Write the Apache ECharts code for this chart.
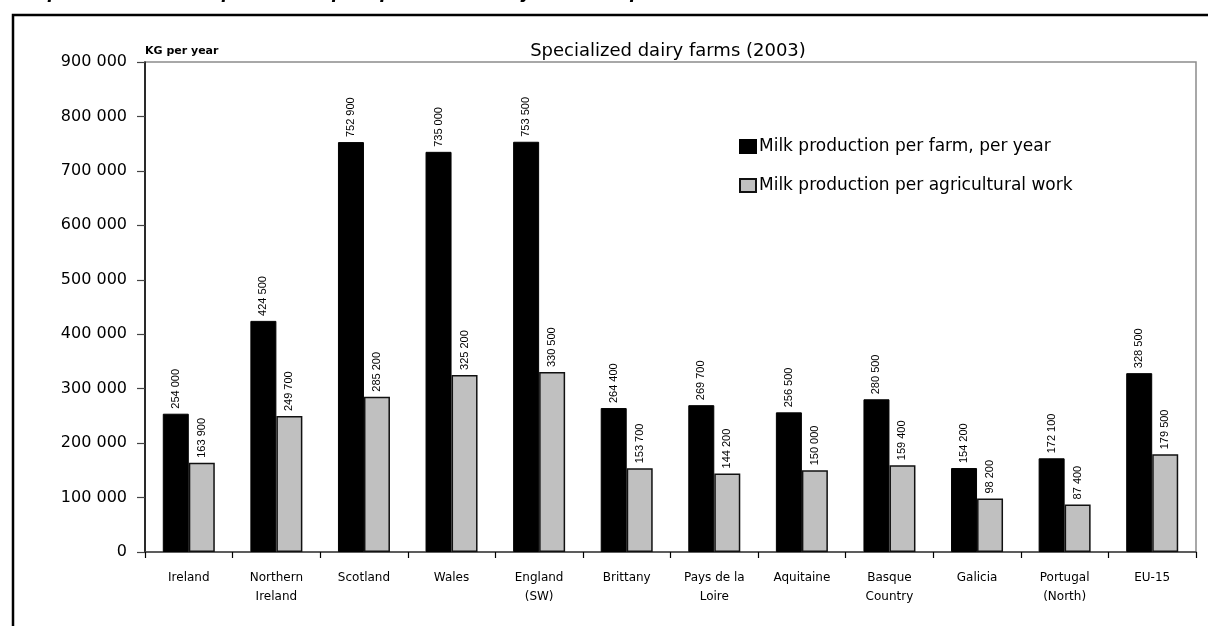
<!DOCTYPE html>
<html>
<head>
<meta charset="utf-8">
<style>
  html, body { margin: 0; padding: 0; background: #fff; }
  #chart { width: 1208px; height: 626px; }
</style>
<script src="https://cdn.jsdelivr.net/npm/echarts@6/dist/echarts.min.js"></script>
</head>
<body>
<div id="chart"></div>
<script>
// Regions compared (two-line labels use a line break)
const categories = [
  'Ireland', 'Northern\nIreland', 'Scotland', 'Wales', 'England\n(SW)', 'Brittany',
  'Pays de la\nLoire', 'Aquitaine', 'Basque\nCountry', 'Galicia', 'Portugal\n(North)', 'EU-15'
];

// Milk production, kg per year
const perFarm = [254000, 424500, 752900, 735000, 753500, 264400, 269700, 256500, 280500, 154200, 172100, 328500];
const perWorker = [163900, 249700, 285200, 325200, 330500, 153700, 144200, 150000, 159400, 98200, 87400, 179500];

const seriesNames = ['Milk production per farm, per year', 'Milk production per agricultural work'];
const yTicks = { min: 0, max: 900000, interval: 100000 };

const handFont = '"DejaVu Sans", "Noto Sans", sans-serif';
const numFont = '"Liberation Sans", Arial, sans-serif';

// 254000 -> "254 000"
function spaced(v) {
  return String(Math.round(v)).replace(/\B(?=(\d{3})+(?!\d))/g, ' ');
}

const valueLabel = {
  show: true,
  position: 'top',
  rotate: 90,
  align: 'left',
  verticalAlign: 'middle',
  distance: 5,
  color: '#000',
  fontFamily: numFont,
  fontSize: 11,
  formatter: p => spaced(p.value)
};

const chart = echarts.init(document.getElementById('chart'), null, { renderer: 'canvas' });

chart.setOption({
  animation: false,
  backgroundColor: '#fff',
  title: {
    text: 'Specialized dairy farms (2003)',
    left: 663,
    top: 37,
    textAlign: 'center',
    textStyle: { fontFamily: handFont, fontSize: 18, fontWeight: 'normal', color: '#000' }
  },
  legend: {
    orient: 'vertical',
    left: 734,
    top: 133,
    itemWidth: 16,
    itemHeight: 13,
    itemGap: 22,
    icon: 'rect',
    textStyle: { fontFamily: handFont, fontSize: 17, color: '#000', padding: [0, 0, 0, -2] },
    data: seriesNames
  },
  grid: {
    left: 145,
    right: 12,
    top: 62,
    bottom: 74,
    show: true,
    borderColor: '#8c8c8c',
    borderWidth: 1.5,
    containLabel: false
  },
  xAxis: {
    type: 'category',
    data: categories,
    axisLine: { lineStyle: { color: '#444', width: 1.5 } },
    axisTick: { show: true, length: 6, lineStyle: { color: '#000', width: 1.2 } },
    axisLabel: {
      interval: 0,
      margin: 16,
      fontFamily: handFont,
      fontSize: 12,
      lineHeight: 19,
      color: '#000'
    }
  },
  yAxis: {
    type: 'value',
    min: yTicks.min,
    max: yTicks.max,
    interval: yTicks.interval,
    name: 'KG per year',
    nameLocation: 'end',
    nameGap: 5,
    nameTextStyle: { align: 'left', fontFamily: handFont, fontSize: 11, fontWeight: 'bold', color: '#000' },
    axisLine: { show: true, lineStyle: { color: '#000', width: 1.5 } },
    axisTick: { show: true, inside: false, length: 8, lineStyle: { color: '#444', width: 1.2 } },
    splitLine: { show: false },
    axisLabel: {
      margin: 18,
      fontFamily: handFont,
      fontSize: 16,
      color: '#000',
      formatter: v => spaced(v)
    }
  },
  series: [
    {
      name: seriesNames[0],
      type: 'bar',
      data: perFarm,
      barWidth: 26,
      barGap: '0%',
      itemStyle: { color: '#000', borderColor: '#000', borderWidth: 1 },
      label: valueLabel
    },
    {
      name: seriesNames[1],
      type: 'bar',
      data: perWorker,
      barWidth: 26,
      itemStyle: { color: '#c0c0c0', borderColor: '#111', borderWidth: 1.5 },
      label: valueLabel
    }
  ],
  graphic: [
    // outer frame (top and left edges; it continues past the page)
    {
      type: 'polyline',
      shape: { points: [[13, 640], [13, 15], [1220, 15]] },
      style: { stroke: '#000', lineWidth: 2.5, fill: null },
      silent: true
    },
    // caption sitting above the frame
    {
      type: 'text',
      left: 14,
      top: -15,
      style: {
        text: 'Graph 3: Annual milk production per specialised dairy farm and per AWU (2003)',
        fontFamily: handFont,
        fontSize: 17,
        fontWeight: 'bold',
        fontStyle: 'italic',
        fill: '#000'
      },
      silent: true
    }
  ]
});
</script>
</body>
</html>
